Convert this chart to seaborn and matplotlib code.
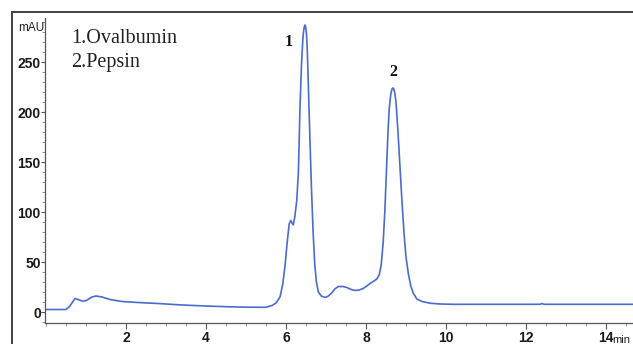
import matplotlib
matplotlib.use("Agg")
import matplotlib.pyplot as plt
from matplotlib.lines import Line2D
from matplotlib.ticker import MultipleLocator, FixedLocator
import seaborn as sns
import pandas as pd

# ---- data ----
time_min = [0.0, 0.5, 0.6, 0.68, 0.73, 0.8, 0.9, 0.97, 1.05, 1.15, 1.25, 1.4, 1.6, 1.9,
            2.3, 2.8, 3.4, 4.0, 4.5, 5.0, 5.5, 5.65, 5.75, 5.85, 5.92, 5.98, 6.03, 6.08,
            6.12, 6.15, 6.18, 6.22, 6.27, 6.31, 6.35, 6.39, 6.42, 6.44, 6.46, 6.475, 6.49,
            6.51, 6.53, 6.56, 6.6, 6.64, 6.68, 6.72, 6.76, 6.81, 6.88, 6.98, 7.06, 7.14,
            7.22, 7.31, 7.42, 7.52, 7.63, 7.73, 7.83, 7.93, 8.02, 8.1, 8.2, 8.27, 8.33,
            8.38, 8.43, 8.47, 8.51, 8.55, 8.58, 8.62, 8.65, 8.67, 8.69, 8.72, 8.75, 8.8,
            8.85, 8.9, 8.95, 9.0, 9.06, 9.12, 9.18, 9.27, 9.4, 9.6, 9.85, 10.2, 11.0,
            12.0, 12.35, 12.4, 12.45, 13.0, 14.0, 14.7]
absorbance_mAU = [2.5, 2.5, 6, 11, 13.5, 12.5, 11, 11, 12.5, 15, 16, 15, 12.5, 10.5,
                  9.5, 8.5, 7, 6, 5.3, 4.8, 4.7, 6.5, 9, 15, 28, 48, 70, 88,
                  91.5, 89, 87, 95, 112, 140, 205, 250, 272, 281, 285.5, 287, 285.5,
                  279, 265, 225, 170, 120, 78, 47, 30, 20, 16, 14.5, 16, 19,
                  23, 25.5, 25.5, 24.5, 22.5, 21.5, 22, 23.5, 26, 28.5, 31, 33, 37,
                  47, 70, 100, 140, 180, 203, 218, 223, 224, 223.5, 219, 210, 180,
                  145, 110, 79, 55, 38, 26, 19, 13, 10.5, 8.8, 8, 7.7, 7.7,
                  7.7, 7.7, 8.5, 7.7, 7.7, 7.7, 7.7]
y_ticks = [0, 50, 100, 150, 200, 250]
x_ticks = [2, 4, 6, 8, 10, 12, 14]
legend_lines = ["1.Ovalbumin", "2.Pepsin"]
peak_labels = ["1", "2"]
peak_label_pos_x = [6.08, 8.68]
peak_label_pos_y = [270, 240]

df = pd.DataFrame({"time": time_min, "mAU": absorbance_mAU})

sns.set_style("ticks")
W, H = 633, 344
fig = plt.figure(figsize=(W / 100, H / 100), dpi=100)
ax = fig.add_axes([45 / W, (H - 323) / H, (W - 45) / W, (323 - 18) / H])

sns.lineplot(data=df, x="time", y="mAU", ax=ax, color="#4a6bcf", linewidth=1.2)

ax.set_xlim(-0.025, 14.675)
ax.set_ylim(-11, 294)
ax.set_xlabel("")
ax.set_ylabel("")
ax.xaxis.set_major_locator(FixedLocator(x_ticks))
ax.yaxis.set_major_locator(FixedLocator(y_ticks))
ax.xaxis.set_minor_locator(MultipleLocator(0.5))
ax.yaxis.set_minor_locator(MultipleLocator(10))
ax.set_xticklabels([str(t) for t in x_ticks], fontsize=10, fontweight="bold",
                   family="Liberation Sans", color="#1a1a1a")
ax.set_yticklabels([str(t) for t in y_ticks], fontsize=10, fontweight="bold",
                   family="Liberation Sans", color="#1a1a1a")
ax.tick_params(axis="both", which="major", direction="out", length=4, width=0.8,
               color="#555555", pad=2)
ax.tick_params(axis="both", which="minor", direction="out", length=2, width=0.6,
               color="#777777")
ax.tick_params(axis="y", which="major", length=3, pad=0)
for side in ["top", "right"]:
    ax.spines[side].set_visible(False)
for side in ["left", "bottom"]:
    ax.spines[side].set_color("#555555")
    ax.spines[side].set_linewidth(0.9)

# units
ax.text(-0.05, 284, "mAU", ha="right", va="center", fontsize=8.5,
        family="Liberation Sans", color="#222222", clip_on=False)
ax.text(14.15, -28, "min", ha="left", va="center", fontsize=8,
        family="Liberation Sans", color="#222222", clip_on=False)

# legend text
ax.text(0.62, 269, legend_lines[0], ha="left", va="baseline", fontsize=14.5,
        family="Liberation Serif", color="#222222")
ax.text(0.62, 245, legend_lines[1], ha="left", va="baseline", fontsize=14.5,
        family="Liberation Serif", color="#222222")

# peak labels
for lab, px, py in zip(peak_labels, peak_label_pos_x, peak_label_pos_y):
    ax.text(px, py, lab, ha="center", va="center", fontsize=11.5, fontweight="bold",
            family="Liberation Serif", color="#111111")

# outer frame (left and top edges)
fig.add_artist(Line2D([12 / W, 12 / W], [0, (H - 12) / H], transform=fig.transFigure,
                      color="#333333", linewidth=1.3))
fig.add_artist(Line2D([12 / W, 1], [(H - 12) / H, (H - 12) / H], transform=fig.transFigure,
                      color="#333333", linewidth=1.3))

fig.savefig("out.png", dpi=100)
